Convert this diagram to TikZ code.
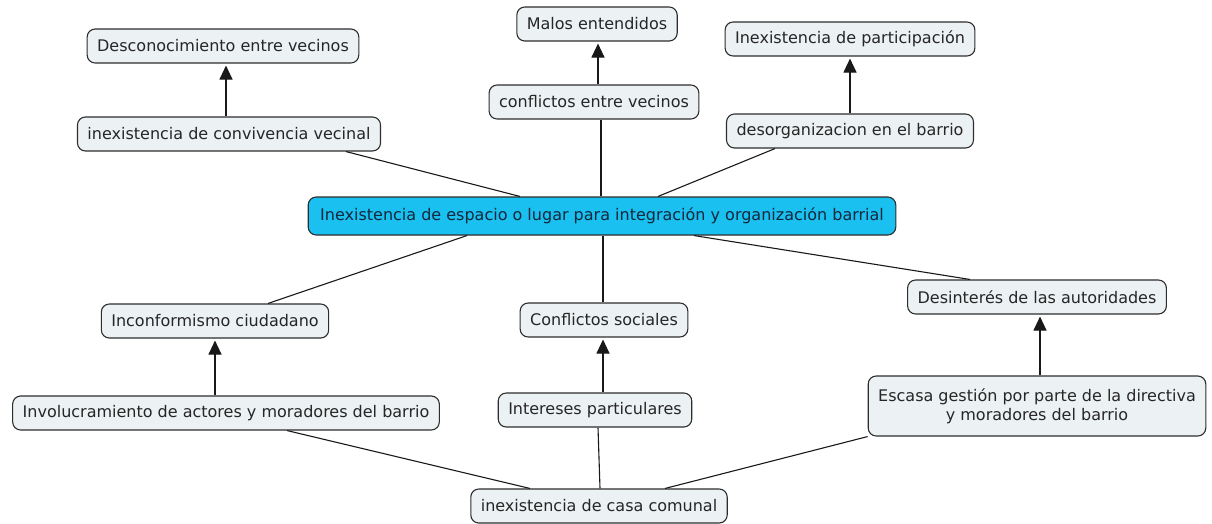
\documentclass[tikz,border=0pt]{standalone}
\usepackage{fontspec}
\setmainfont{DejaVu Sans}
\usetikzlibrary{arrows.meta}
\definecolor{boxfill}{RGB}{236,241,243}
\definecolor{boxline}{RGB}{45,45,45}
\definecolor{mainfill}{RGB}{26,192,240}
\definecolor{maintext}{RGB}{20,40,60}
\begin{document}
\begin{tikzpicture}[x=1pt,y=-1pt,
  concept/.style={draw=boxline,line width=1.1pt,fill=boxfill,rounded corners=8pt,
    font=\fontsize{16}{19}\selectfont,text=black!85,inner xsep=10pt,inner ysep=0pt,
    minimum height=34pt,align=center},
  link/.style={draw=black!90,line width=1.1pt},
  arr/.style={link,-{Triangle[length=14pt,width=13pt]},shorten >=2pt}]
\useasboundingbox (0,0) rectangle (1212,523);
\node[concept] (n1) at (223,46) {Desconocimiento entre vecinos};
\node[concept] (n2) at (597,24) {Malos entendidos};
\node[concept] (n3) at (850,39) {Inexistencia de participación};
\node[concept] (n4) at (229,134) {inexistencia de convivencia vecinal};
\node[concept] (n5) at (594,102) {conflictos entre vecinos};
\node[concept] (n6) at (850,131) {desorganizacion en el barrio};
\node[concept,fill=mainfill,text=maintext,minimum height=38pt,inner xsep=12pt] (c) at (602,216) {Inexistencia de espacio o lugar para integración y organización barrial};
\node[concept] (n8) at (1037,297) {Desinterés de las autoridades};
\node[concept] (n9) at (215,321) {Inconformismo ciudadano};
\node[concept] (n10) at (604,320) {Conflictos sociales};
\node[concept] (n11) at (226,413) {Involucramiento de actores y moradores del barrio};
\node[concept] (n12) at (595,410) {Intereses particulares};
\node[concept,minimum height=60pt] (n13) at (1037,406) {Escasa gestión por parte de la directiva\\y moradores del barrio};
\node[concept] (n14) at (599,506) {inexistencia de casa comunal};
% central links
\draw[link] ([xshift=-82pt]c.north) -- ([xshift=117pt]n4.south);
\draw[link] ([xshift=-1pt]c.north) -- ([xshift=7pt]n5.south);
\draw[link] ([xshift=56pt]c.north) -- ([xshift=-75pt]n6.south);
\draw[link] ([xshift=-135pt]c.south) -- ([xshift=53pt]n9.north);
\draw[link] ([xshift=1pt]c.south) -- ([xshift=-1pt]n10.north);
\draw[link] ([xshift=92pt]c.south) -- ([xshift=-67pt]n8.north);
% arrows
\draw[arr] ([xshift=-3pt]n4.north) -- ([xshift=3pt]n1.south);
\draw[arr] ([xshift=4pt]n5.north) -- ([xshift=1pt]n2.south);
\draw[arr] (n6.north) -- (n3.south);
\draw[arr] ([xshift=-11pt]n11.north) -- (n9.south);
\draw[arr] ([xshift=8pt]n12.north) -- ([xshift=-1pt]n10.south);
\draw[arr] ([xshift=3pt]n13.north) -- ([xshift=3pt]n8.south);
% bottom links
\draw[link] ([xshift=-69pt]n14.north) -- ([xshift=61pt]n11.south);
\draw[link] ([xshift=1pt]n14.north) -- ([xshift=3pt]n12.south);
\draw[link] ([xshift=66pt]n14.north) -- (n13.south west);
\end{tikzpicture}
\end{document}
